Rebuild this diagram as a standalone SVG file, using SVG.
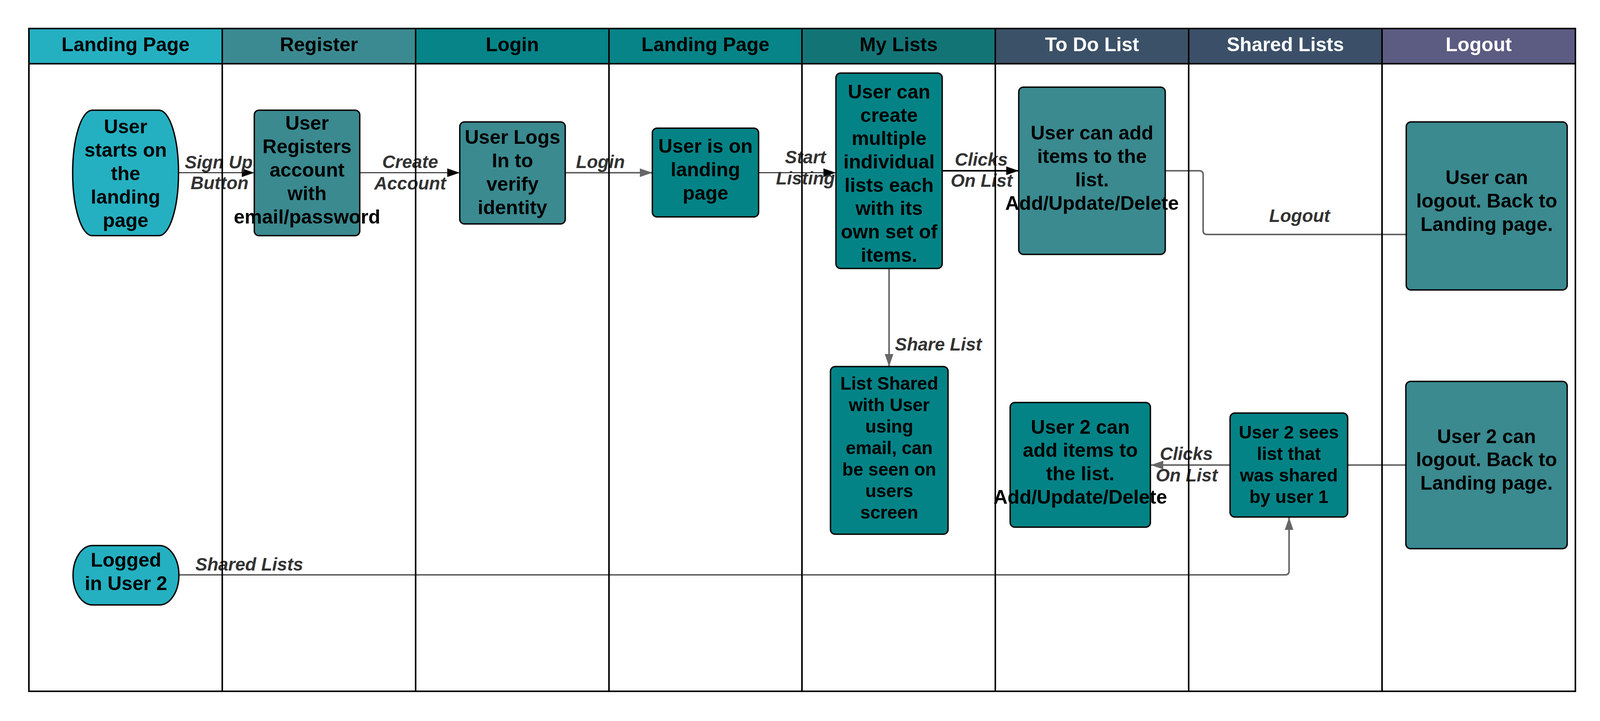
<svg xmlns="http://www.w3.org/2000/svg" width="4110" height="1845" viewBox="0 0 4110 1845">
<style>
.hdr{font-family:"Liberation Sans",Arial,sans-serif;font-weight:bold;font-size:50px;text-anchor:middle;fill:#000}
.hw{fill:#fff}
.nt{font-family:"Liberation Sans",Arial,sans-serif;font-weight:bold;font-size:50px;text-anchor:middle;fill:#000}
.ns{font-size:46px}
.lbl{font-family:"Liberation Sans",Arial,sans-serif;font-weight:bold;font-style:italic;font-size:46px;text-anchor:middle;fill:#333}
.ls{text-anchor:start}
.box{stroke:#000;stroke-width:3.5}
.c1{fill:#24b0c1}
.c2{fill:#3a8a90}
.c3{fill:#048386}
.blk{fill:none;stroke:#000;stroke-width:2}
.gry{fill:none;stroke:#666;stroke-width:4}
.lane{stroke:#000;stroke-width:4;fill:none}
</style>
<defs>
<marker id="ab" markerUnits="userSpaceOnUse" markerWidth="34" markerHeight="24" refX="32" refY="11" orient="auto"><path d="M0,0 L32,11 L0,22 z" fill="#000"/></marker>
<marker id="ag" markerUnits="userSpaceOnUse" markerWidth="34" markerHeight="24" refX="32" refY="11" orient="auto"><path d="M0,0 L32,11 L0,22 z" fill="#666"/></marker>
</defs>
<rect width="4110" height="1845" fill="#fff"/>
<g id="swimlanes">
<rect x="74" y="73" width="495" height="90" fill="#24b0c1"/>
<rect x="569" y="73" width="495" height="90" fill="#3c8a91"/>
<rect x="1064" y="73" width="495" height="90" fill="#068487"/>
<rect x="1559" y="73" width="494" height="90" fill="#078487"/>
<rect x="2053" y="73" width="495" height="90" fill="#137476"/>
<rect x="2548" y="73" width="495" height="90" fill="#3b5167"/>
<rect x="3043" y="73" width="495" height="90" fill="#3b5068"/>
<rect x="3538" y="73" width="495" height="90" fill="#5c5b82"/>
<text class="hdr" x="321.5" y="131">Landing Page</text>
<text class="hdr" x="816.5" y="131">Register</text>
<text class="hdr" x="1311.5" y="131">Login</text>
<text class="hdr" x="1806" y="131">Landing Page</text>
<text class="hdr" x="2300.5" y="131">My Lists</text>
<text class="hdr hw" x="2795.5" y="131">To Do List</text>
<text class="hdr hw" x="3290.5" y="131">Shared Lists</text>
<text class="hdr hw" x="3785.5" y="131">Logout</text>
</g>
<g id="connectors">
<path class="blk" d="M457,442 H651" marker-end="url(#ab)"/>
<text class="lbl" x="560" y="431">Sign Up</text>
<text class="lbl" x="562" y="484">Button</text>
<path class="blk" d="M921,442 H1177" marker-end="url(#ab)"/>
<text class="lbl" x="1050" y="430">Create</text>
<text class="lbl" x="1050" y="485">Account</text>
<path class="gry" d="M1447,442 H1670" marker-end="url(#ag)"/>
<text class="lbl" x="1537" y="430">Login</text>
<path class="blk" d="M1942,442 H2140" marker-end="url(#ab)"/>
<text class="lbl" x="2062" y="418">Start</text>
<text class="lbl" x="2062" y="472">Listing</text>
<path class="blk" d="M2412,437 H2608" style="stroke-width:4" marker-end="url(#ab)"/>
<text class="lbl" x="2512" y="424">Clicks</text>
<text class="lbl" x="2513" y="478">On List</text>
<path class="gry" d="M3600,600 H3090 Q3080,600 3080,590 V447 Q3080,437 3070,437 H2983"/>
<text class="lbl" x="3327" y="568">Logout</text>
<path class="gry" d="M2276,687 V938" marker-end="url(#ag)"/>
<text class="lbl ls" x="2291" y="897">Share List</text>
<path class="gry" d="M458,1471 H3290 Q3300,1471 3300,1461 V1324" marker-end="url(#ag)"/>
<text class="lbl ls" x="500" y="1460">Shared Lists</text>
<path class="gry" d="M3149,1190 H2946" marker-end="url(#ag)"/>
<text class="lbl" x="3037" y="1177">Clicks</text>
<text class="lbl" x="3038" y="1232">On List</text>
<path class="gry" d="M3450,1190 H3599"/>
</g>
<g id="n-start">
<rect class="box c1" x="186" y="282" width="271" height="321" rx="50" ry="160.5"/>
<text class="nt" x="321.5" y="341">User</text>
<text class="nt" x="321.5" y="401">starts on</text>
<text class="nt" x="321.5" y="461">the</text>
<text class="nt" x="321.5" y="521">landing</text>
<text class="nt" x="321.5" y="581">page</text>
</g>
<g id="n-register">
<rect class="box c2" x="651" y="282" width="270" height="321" rx="12"/>
<text class="nt" x="786" y="332">User</text>
<text class="nt" x="786" y="392">Registers</text>
<text class="nt" x="786" y="452">account</text>
<text class="nt" x="786" y="512">with</text>
<text class="nt" x="786" y="572">email/password</text>
</g>
<g id="n-login">
<rect class="box c2" x="1177" y="312" width="270" height="261" rx="12"/>
<text class="nt" x="1312" y="368">User Logs</text>
<text class="nt" x="1312" y="428">In to</text>
<text class="nt" x="1312" y="488">verify</text>
<text class="nt" x="1312" y="548">identity</text>
</g>
<g id="n-landing">
<rect class="box c3" x="1670" y="328" width="272" height="227" rx="12"/>
<text class="nt" x="1806" y="391">User is on</text>
<text class="nt" x="1806" y="451">landing</text>
<text class="nt" x="1806" y="511">page</text>
</g>
<g id="n-mylists">
<rect class="box c3" x="2140" y="187" width="272" height="500" rx="12"/>
<text class="nt" x="2276" y="252">User can</text>
<text class="nt" x="2276" y="312">create</text>
<text class="nt" x="2276" y="371">multiple</text>
<text class="nt" x="2276" y="431">individual</text>
<text class="nt" x="2276" y="491">lists each</text>
<text class="nt" x="2276" y="550">with its</text>
<text class="nt" x="2276" y="610">own set of</text>
<text class="nt" x="2276" y="670">items.</text>
</g>
<g id="n-todo">
<rect class="box c2" x="2608" y="223" width="375" height="428" rx="12"/>
<text class="nt" x="2795.5" y="357">User can add</text>
<text class="nt" x="2795.5" y="417">items to the</text>
<text class="nt" x="2795.5" y="477">list.</text>
<text class="nt" x="2795.5" y="537">Add/Update/Delete</text>
</g>
<g id="n-logout">
<rect class="box c2" x="3600" y="312" width="412" height="430" rx="12"/>
<text class="nt" x="3806" y="471">User can</text>
<text class="nt" x="3806" y="531">logout. Back to</text>
<text class="nt" x="3806" y="591">Landing page.</text>
</g>
<g id="n-shared">
<rect class="box c3" x="2126" y="938" width="301" height="429" rx="12"/>
<text class="nt ns" x="2276.5" y="997">List Shared</text>
<text class="nt ns" x="2276.5" y="1052">with User</text>
<text class="nt ns" x="2276.5" y="1107">using</text>
<text class="nt ns" x="2276.5" y="1162">email, can</text>
<text class="nt ns" x="2276.5" y="1217">be seen on</text>
<text class="nt ns" x="2276.5" y="1272">users</text>
<text class="nt ns" x="2276.5" y="1327">screen</text>
</g>
<g id="n-user2add">
<rect class="box c3" x="2586" y="1030" width="359" height="319" rx="12"/>
<text class="nt" x="2765.5" y="1110">User 2 can</text>
<text class="nt" x="2765.5" y="1169">add items to</text>
<text class="nt" x="2765.5" y="1229">the list.</text>
<text class="nt" x="2765.5" y="1289">Add/Update/Delete</text>
</g>
<g id="n-user2sees">
<rect class="box c3" x="3149" y="1057" width="301" height="266" rx="12"/>
<text class="nt ns" x="3299.5" y="1122">User 2 sees</text>
<text class="nt ns" x="3299.5" y="1177">list that</text>
<text class="nt ns" x="3299.5" y="1232">was shared</text>
<text class="nt ns" x="3299.5" y="1287">by user 1</text>
</g>
<g id="n-user2logout">
<rect class="box c2" x="3599" y="976" width="413" height="428" rx="12"/>
<text class="nt" x="3805.5" y="1134">User 2 can</text>
<text class="nt" x="3805.5" y="1193">logout. Back to</text>
<text class="nt" x="3805.5" y="1253">Landing page.</text>
</g>
<g id="n-user2">
<rect class="box c1" x="187" y="1396" width="271" height="152" rx="50" ry="76"/>
<text class="nt" x="322.5" y="1450">Logged</text>
<text class="nt" x="322.5" y="1510">in User 2</text>
</g>
<g id="lane-lines">
<rect class="lane" x="74" y="73" width="3959" height="1696"/>
<path class="lane" d="M74,163 H4033 M569,73 V1769 M1064,73 V1769 M1559,73 V1769 M2053,73 V1769 M2548,73 V1769 M3043,73 V1769 M3538,73 V1769"/>
</g>
</svg>
